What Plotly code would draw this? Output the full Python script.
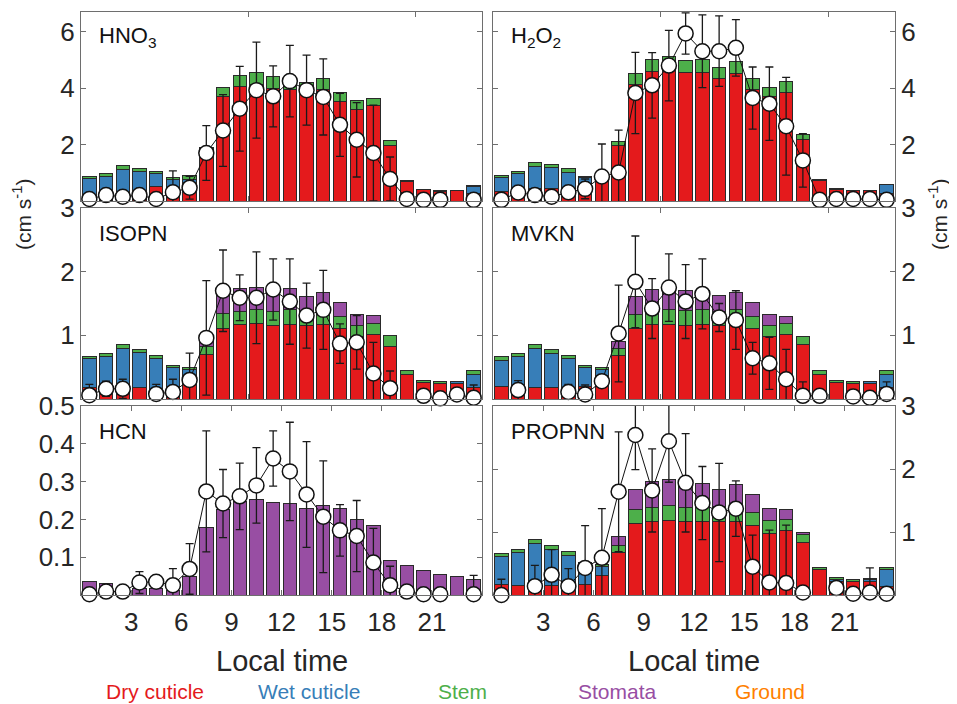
import plotly.graph_objects as go

# ---------------- data ----------------
hours = [0.5, 1.5, 2.5, 3.5, 4.5, 5.5, 6.5, 7.5, 8.5, 9.5, 10.5, 11.5,
         12.5, 13.5, 14.5, 15.5, 16.5, 17.5, 18.5, 19.5, 20.5, 21.5, 22.5, 23.5]
xtick_vals = [3, 6, 9, 12, 15, 18, 21]
xtick_text = ["3", "6", "9", "12", "15", "18", "21"]
legend_names = ["Dry cuticle", "Wet cuticle", "Stem", "Stomata", "Ground"]

# HNO3
hno3_dry = [0.15, 0.20, 0.30, 0.35, 0.50, 0.30, 0.65, 1.85, 3.71, 4.05, 4.13, 4.00, 3.95, 3.98, 3.97, 3.54, 3.24, 3.38, 1.97, 0.70, 0.40, 0.35, 0.37, 0.25]
hno3_wet = [0.65, 0.67, 0.83, 0.70, 0.46, 0.48, 0.10, 0, 0, 0, 0, 0, 0, 0, 0, 0, 0, 0, 0, 0, 0, 0, 0, 0.28]
hno3_stem = [0.07, 0.09, 0.12, 0.10, 0.10, 0.05, 0.14, 0.05, 0.32, 0.40, 0.44, 0.41, 0.30, 0.21, 0.39, 0.32, 0.33, 0.27, 0.17, 0.02, 0.02, 0.02, 0, 0.03]
hno3_stom = [0] * 24
hno3_obs = [0.07, 0.21, 0.15, 0.21, 0.07, 0.31, 0.47, 1.70, 2.50, 3.27, 3.93, 3.71, 4.25, 3.93, 3.69, 2.70, 2.17, 1.70, 0.78, 0.07, 0.04, 0.04, None, 0.04]
hno3_err = [0.03, 0.05, 0.05, 0.05, 0.10, 0.76, 0.40, 0.97, 1.27, 1.50, 1.70, 1.08, 1.27, 1.24, 1.35, 1.12, 1.32, 1.70, 0.78, 0.05, 0.05, 0.05, 0, 0.05]

# H2O2
h2o2_dry = [0.33, 0.33, 0.45, 0.45, 0.35, 0.48, 0.80, 1.97, 4.13, 4.60, 4.72, 4.54, 4.57, 4.33, 4.52, 3.95, 3.71, 3.85, 2.17, 0.73, 0.42, 0.37, 0.38, 0.27]
h2o2_wet = [0.52, 0.63, 0.77, 0.73, 0.67, 0.35, 0, 0, 0, 0, 0, 0, 0, 0, 0, 0, 0, 0, 0, 0, 0, 0, 0, 0.30]
h2o2_stem = [0.06, 0.08, 0.14, 0.10, 0.12, 0.04, 0, 0.14, 0.39, 0.41, 0.42, 0.44, 0.45, 0.42, 0.42, 0.38, 0.32, 0.37, 0.20, 0.02, 0.02, 0.02, 0.01, 0.03]
h2o2_stom = [0] * 24
h2o2_obs = [0.04, 0.30, 0.21, 0.15, 0.31, 0.43, 0.87, 1.01, 3.83, 4.10, 4.80, 5.94, 5.31, 5.31, 5.43, 3.65, 3.45, 2.65, 1.44, 0.04, 0.07, 0.07, 0.07, 0.04]
h2o2_err = [0.02, 0.05, 0.05, 0.05, 0.05, 0.35, 1.15, 1.50, 1.44, 1.16, 1.25, 0.73, 1.29, 1.25, 1.00, 1.10, 1.30, 1.73, 0.95, 0.05, 0.05, 0.08, 0.05, 0.05]

# ISOPN
isopn_dry = [0.18, 0.15, 0.12, 0.18, 0.14, 0.20, 0.36, 0.70, 1.11, 1.17, 1.18, 1.15, 1.17, 1.15, 1.17, 1.11, 0.98, 1.01, 0.83, 0.39, 0.26, 0.24, 0.24, 0.18]
isopn_wet = [0.45, 0.51, 0.68, 0.55, 0.50, 0.29, 0.10, 0, 0, 0, 0, 0, 0, 0, 0, 0, 0, 0, 0, 0, 0, 0, 0.03, 0.21]
isopn_stem = [0.03, 0.05, 0.06, 0.05, 0.05, 0.04, 0.04, 0.13, 0.23, 0.21, 0.22, 0.22, 0.23, 0.22, 0.24, 0.18, 0.18, 0.17, 0.16, 0.06, 0.03, 0.03, 0.01, 0.05]
isopn_stom = [0, 0, 0, 0, 0, 0, 0, 0.10, 0.34, 0.36, 0.35, 0.35, 0.33, 0.24, 0.27, 0.22, 0.16, 0.13, 0, 0, 0, 0, 0, 0]
isopn_obs = [0.06, 0.16, 0.16, None, 0.08, 0.11, 0.30, 0.96, 1.70, 1.59, 1.59, 1.72, 1.53, 1.31, 1.40, 0.87, 0.89, 0.40, 0.17, None, 0.05, 0.01, 0.07, 0.02]
isopn_err = [0.17, 0.12, 0.15, 0, 0.15, 0.20, 0.42, 0.90, 0.64, 0.36, 0.72, 0.48, 0.67, 0.51, 0.62, 0.31, 0.42, 0.49, 0.27, 0, 0.05, 0.05, 0.05, 0.20]

# MVKN
mvkn_dry = [0.19, 0.18, 0.18, 0.18, 0.18, 0.20, 0.37, 0.68, 1.11, 1.17, 1.17, 1.16, 1.17, 1.15, 1.18, 1.10, 0.98, 1.01, 0.85, 0.39, 0.26, 0.24, 0.24, 0.18]
mvkn_wet = [0.42, 0.48, 0.62, 0.54, 0.45, 0.29, 0.09, 0, 0, 0, 0, 0, 0, 0, 0, 0, 0, 0, 0, 0, 0, 0, 0.03, 0.21]
mvkn_stem = [0.05, 0.05, 0.06, 0.06, 0.06, 0.04, 0.04, 0.12, 0.22, 0.23, 0.23, 0.23, 0.23, 0.22, 0.22, 0.20, 0.18, 0.17, 0.13, 0.05, 0.03, 0.03, 0.01, 0.05]
mvkn_stom = [0, 0, 0, 0, 0, 0, 0, 0.10, 0.28, 0.32, 0.31, 0.31, 0.30, 0.25, 0.27, 0.22, 0.17, 0.12, 0, 0, 0, 0, 0, 0]
mvkn_obs = [None, 0.14, None, None, 0.11, 0.07, 0.28, 1.03, 1.84, 1.42, 1.75, 1.53, 1.65, 1.28, 1.24, 0.64, 0.56, 0.31, 0.05, 0.05, None, 0.04, 0.02, 0.08]
mvkn_err = [0, 0.15, 0, 0, 0.12, 0.15, 0.05, 0.76, 0.72, 0.47, 0.53, 0.58, 0.55, 0.22, 0.46, 0.25, 0.41, 0.47, 0.22, 0.05, 0, 0.10, 0.05, 0.19]

# HCN
hcn_dry = [0] * 24
hcn_wet = [0] * 24
hcn_stem = [0] * 24
hcn_stom = [0.037, 0.031, 0.010, 0.018, 0.016, 0.013, 0.048, 0.178, 0.227, 0.248, 0.252, 0.245, 0.242, 0.229, 0.237, 0.230, 0.200, 0.183, 0.092, 0.079, 0.066, 0.053, 0.048, 0.041]
hcn_obs = [0.002, 0.009, 0.009, 0.033, 0.035, 0.026, 0.069, 0.274, 0.242, 0.261, 0.290, 0.361, 0.327, 0.266, 0.207, 0.171, 0.156, 0.086, 0.026, 0.009, 0.002, 0.002, None, 0.002]
hcn_err = [0.002, 0.005, 0.005, 0.029, 0.010, 0.044, 0.067, 0.160, 0.090, 0.088, 0.100, 0.073, 0.130, 0.140, 0.148, 0.068, 0.094, 0.090, 0.050, 0.005, 0.005, 0.005, 0, 0.050]

# PROPNN
propnn_dry = [0.16, 0.15, 0.11, 0.15, 0.16, 0.16, 0.31, 0.68, 1.14, 1.16, 1.19, 1.16, 1.17, 1.16, 1.17, 1.10, 0.98, 1.03, 0.84, 0.40, 0.22, 0.22, 0.22, 0.14]
propnn_wet = [0.45, 0.52, 0.71, 0.58, 0.47, 0.32, 0.14, 0, 0, 0, 0, 0, 0, 0, 0, 0, 0, 0, 0, 0, 0.02, 0, 0.03, 0.26]
propnn_stem = [0.05, 0.05, 0.06, 0.06, 0.06, 0.04, 0.04, 0.11, 0.22, 0.23, 0.23, 0.23, 0.24, 0.25, 0.25, 0.21, 0.21, 0.17, 0.12, 0.03, 0.03, 0.03, 0.01, 0.03]
propnn_stom = [0, 0, 0, 0, 0, 0, 0, 0.14, 0.32, 0.41, 0.41, 0.36, 0.36, 0.27, 0.33, 0.28, 0.19, 0.15, 0.04, 0, 0, 0, 0, 0]
propnn_obs = [0.0, None, 0.14, 0.32, 0.14, 0.43, 0.59, 1.64, 2.54, 1.66, 2.44, 1.78, 1.46, 1.31, 1.37, 0.45, 0.20, 0.19, 0.04, None, 0.11, 0.02, 0.04, 0.02]
propnn_err = [0.25, 0, 0.33, 0.40, 0.28, 0.67, 0.78, 0.95, 0.55, 0.66, 0.65, 0.78, 0.58, 0.78, 0.44, 0.50, 0.83, 0.92, 0.0, 0, 0.05, 0.05, 0.39, 0.05]

# ---------------- styling ----------------
W, H = 957, 704
OFF = 8  # page body margin in the browser
FONT = "Arial, Liberation Sans, sans-serif"
TXT = "#262626"
AX = "#6e6e6e"
C_DRY, C_WET, C_STEM, C_STOM, C_GROUND = "#e41a1c", "#377eb8", "#4daf4a", "#984ea3", "#ff7f00"

col_px = [(81, 482), (493, 895)]
row_px = [(12, 201), (208, 399), (406, 595)]


def px(p):
    return (p - OFF) / W


def py(p):
    return 1 - (p - OFF) / H


panels = [
    ("HNO<sub>3</sub>", hno3_dry, hno3_wet, hno3_stem, hno3_stom, hno3_obs, hno3_err, 0, 0, [0, 6.7], [2, 4, 6], ["2", "4", "6"]),
    ("H<sub>2</sub>O<sub>2</sub>", h2o2_dry, h2o2_wet, h2o2_stem, h2o2_stom, h2o2_obs, h2o2_err, 0, 1, [0, 6.7], [2, 4, 6], ["2", "4", "6"]),
    ("ISOPN", isopn_dry, isopn_wet, isopn_stem, isopn_stom, isopn_obs, isopn_err, 1, 0, [0, 3.0], [1, 2, 3], ["1", "2", "3"]),
    ("MVKN", mvkn_dry, mvkn_wet, mvkn_stem, mvkn_stom, mvkn_obs, mvkn_err, 1, 1, [0, 3.0], [1, 2, 3], ["1", "2", "3"]),
    ("HCN", hcn_dry, hcn_wet, hcn_stem, hcn_stom, hcn_obs, hcn_err, 2, 0, [0, 0.5], [0.1, 0.2, 0.3, 0.4, 0.5], ["0.1", "0.2", "0.3", "0.4", "0.5"]),
    ("PROPNN", propnn_dry, propnn_wet, propnn_stem, propnn_stom, propnn_obs, propnn_err, 2, 1, [0, 3.0], [1, 2, 3], ["1", "2", "3"]),
]

fig = go.Figure()
annotations = []


def nz(vals):
    return [v if v else None for v in vals]


for i, (label, dry, wet, stem, stom, obs, err, r, c, yr, ytv, ytt) in enumerate(panels):
    k = i + 1
    xa = "x" if k == 1 else f"x{k}"
    ya = "y" if k == 1 else f"y{k}"
    for vals, colr in ((dry, C_DRY), (wet, C_WET), (stem, C_STEM), (stom, C_STOM)):
        fig.add_trace(go.Bar(
            x=hours, y=nz(vals), width=0.8, xaxis=xa, yaxis=ya,
            marker=dict(color=colr, line=dict(color="#2a2a2a", width=1)),
            showlegend=False, hoverinfo="skip"))
    fig.add_trace(go.Scatter(
        x=hours, y=obs, xaxis=xa, yaxis=ya, mode="lines",
        line=dict(color="#111", width=1),
        error_y=dict(type="data", array=err, color="#1a1a1a", thickness=1.3, width=4),
        showlegend=False, hoverinfo="skip", cliponaxis=True))
    fig.add_trace(go.Scatter(
        x=hours, y=obs, xaxis=xa, yaxis=ya, mode="markers",
        marker=dict(size=15, color="white", line=dict(color="#111", width=1.5)),
        showlegend=False, hoverinfo="skip", cliponaxis=False))

    xkey = "xaxis" if k == 1 else f"xaxis{k}"
    ykey = "yaxis" if k == 1 else f"yaxis{k}"
    bottom = (r == 2)
    xdict = dict(
        domain=[px(col_px[c][0]), px(col_px[c][1])], range=[0, 24], anchor=ya,
        ticks="inside", ticklen=5, tickcolor=AX,
        showline=True, linecolor=AX, linewidth=1, mirror="ticks",
        showgrid=False, zeroline=False, automargin=False,
        tickfont=dict(family=FONT, size=26, color=TXT))
    if bottom:
        xdict.update(tickvals=xtick_vals, ticktext=xtick_text, showticklabels=True,
                     ticklabelstandoff=4)
    else:
        xdict.update(tickvals=[10, 20], showticklabels=False)
    fig.update_layout(**{
        xkey: xdict,
        ykey: dict(
            domain=[py(row_px[r][1]), py(row_px[r][0])], range=yr, anchor=xa,
            side="left" if c == 0 else "right",
            tickvals=ytv, ticktext=ytt, ticks="inside", ticklen=5, tickcolor=AX,
            showline=True, linecolor=AX, linewidth=1, mirror="ticks",
            showgrid=False, zeroline=False, automargin=False,
            tickfont=dict(family=FONT, size=26, color=TXT)),
    })
    annotations.append(dict(
        text=label, xref="paper", yref="paper",
        x=px(col_px[c][0] + 16), y=py(row_px[r][0] + 25),
        xanchor="left", yanchor="middle", showarrow=False,
        font=dict(family=FONT, size=22, color="#111")))

# axis titles
for cx in (281.5, 694):
    annotations.append(dict(text="Local time", xref="paper", yref="paper",
                            x=px(cx), y=py(661), xanchor="center", yanchor="middle",
                            showarrow=False, font=dict(family=FONT, size=29, color=TXT)))
for tx in (22, 938):
    annotations.append(dict(text="(cm s<sup>-1</sup>)", xref="paper", yref="paper",
                            x=px(tx), y=py(215), xanchor="center", yanchor="middle",
                            textangle=-90, showarrow=False,
                            font=dict(family=FONT, size=21, color=TXT)))

# legend text
leg_colors = [C_DRY, C_WET, C_STEM, C_STOM, C_GROUND]
leg_x = [155, 309, 462, 617, 770]
for name, colr, lx in zip(legend_names, leg_colors, leg_x):
    annotations.append(dict(text=name, xref="paper", yref="paper",
                            x=px(lx), y=py(691), xanchor="center", yanchor="middle",
                            showarrow=False, font=dict(family=FONT, size=21, color=colr)))

fig.update_layout(
    width=W, height=H, barmode="stack", bargap=0.2,
    margin=dict(l=0, r=0, t=0, b=0, pad=0, autoexpand=False),
    paper_bgcolor="white", plot_bgcolor="white",
    showlegend=False, annotations=annotations,
    font=dict(family=FONT, color=TXT))

fig.write_html("out.html")
